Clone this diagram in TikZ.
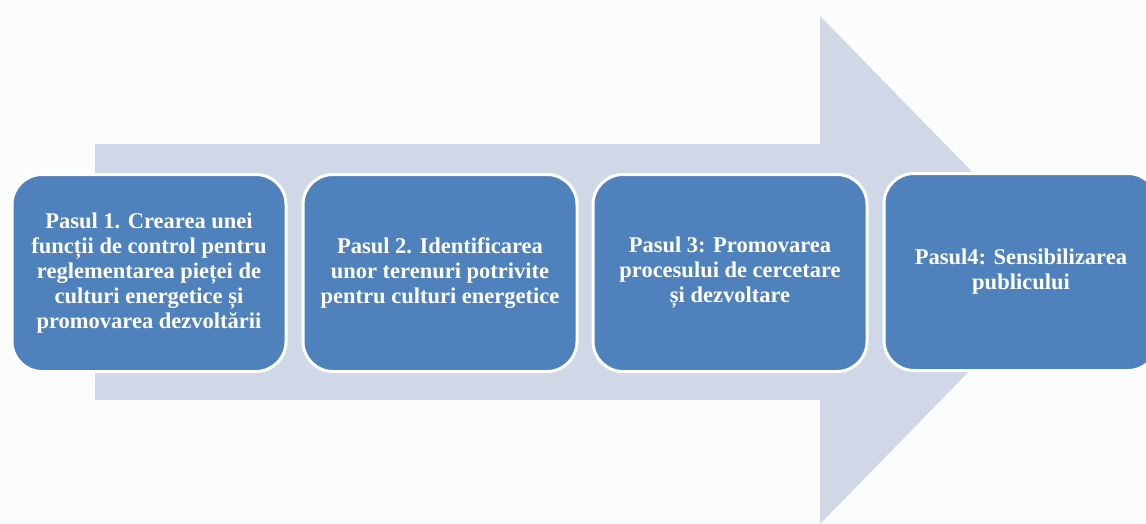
\documentclass[tikz,border=0pt]{standalone}
\usepackage{fontspec}
\setmainfont{Liberation Serif}
\definecolor{pasblue}{HTML}{4F81BD}
\definecolor{arrowfill}{HTML}{D0D8E8}
\definecolor{pagebg}{HTML}{FBFDFC}
\begin{document}
\begin{tikzpicture}[x=1pt,y=-1pt]
			\clip (0,0) rectangle (1146,523);
			\fill[pagebg] (0,0) rectangle (1146,523);
			% big background arrow
			\fill[arrowfill] (95,144) -- (820,144) -- (820,16) -- (1068,270)
				-- (820,524) -- (820,400) -- (95,400) -- cycle;
			
			\begin{scope}[every node/.style={rectangle,rounded corners=30pt,fill=pasblue,draw=white,line width=3pt,
					minimum width=274pt,minimum height=197pt,align=center,text=white,
					font=\bfseries\fontsize{22.5}{25}\selectfont}]
				\node (s1) at (149,273) {Pasul 1. Crearea unei\\funcții de control pentru\\reglementarea pieței de\\culturi energetice și\\promovarea dezvoltării};
				\node (s2) at (440,273) {Pasul 2. Identificarea\\unor terenuri potrivite\\pentru culturi energetice};
				\node (s3) at (730,273) {Pasul 3: Promovarea\\procesului de cercetare\\și dezvoltare};
				\node (s4) at (1021,272) {Pasul4: Sensibilizarea\\publicului};
			\end{scope}
		\end{tikzpicture}
\end{document}
